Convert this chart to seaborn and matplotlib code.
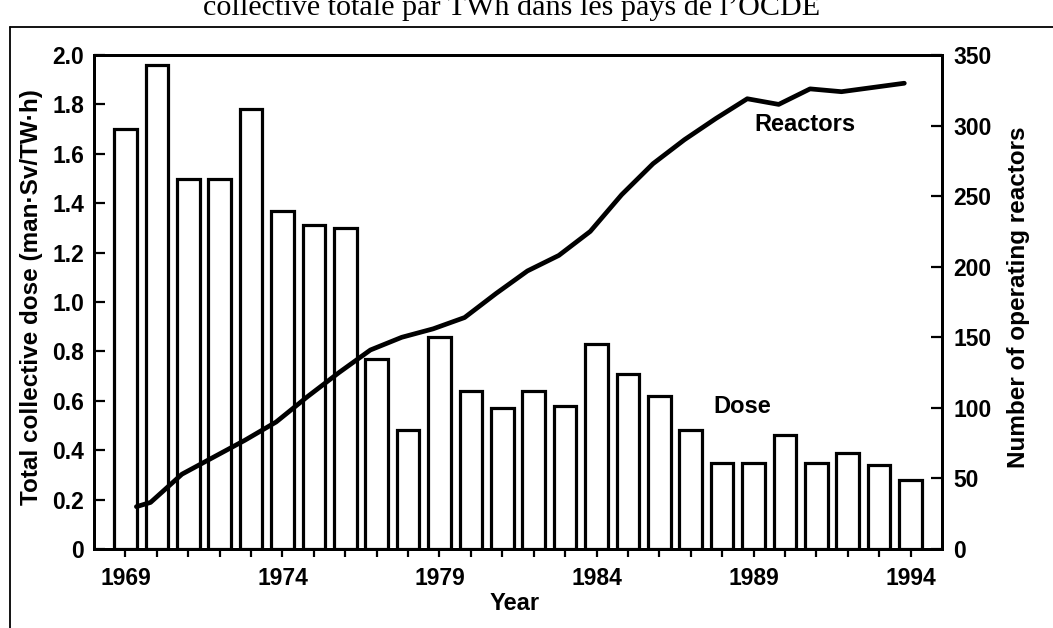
import numpy as np
import matplotlib
matplotlib.use("Agg")
import matplotlib.pyplot as plt
from matplotlib.lines import Line2D
import seaborn as sns

# ---------------- data ----------------
years = list(range(1969, 1995))
dose = [1.70, 1.96, 1.50, 1.50, 1.78, 1.37, 1.31, 1.30, 0.77, 0.48,
        0.86, 0.64, 0.57, 0.64, 0.58, 0.83, 0.71, 0.62, 0.48, 0.35,
        0.35, 0.46, 0.35, 0.39, 0.34, 0.28]

reactor_years = [1969.55] + list(range(1970, 1995))
reactors = [30, 33, 53, 65, 77, 90, 108, 125, 141, 150, 156, 164, 181, 197,
            208, 225, 251, 273, 290, 305, 319, 315, 326, 324, 327, 330]

dose_ticks = [0.0, 0.2, 0.4, 0.6, 0.8, 1.0, 1.2, 1.4, 1.6, 1.8, 2.0]
reactor_ticks = [0, 50, 100, 150, 200, 250, 300, 350]
year_labels = [1969, 1974, 1979, 1984, 1989, 1994]

title_text = "collective totale par TWh dans les pays de l\u2019OCDE"
left_label = "Total collective dose (man\u00b7Sv/TW\u00b7h)"
right_label = "Number of operating reactors"

# ---------------- style ----------------
sns.set_theme(style="ticks")
plt.rcParams['font.family'] = ['Liberation Sans', 'DejaVu Sans']
plt.rcParams['font.weight'] = 'bold'

W, H = 1053, 628
fig = plt.figure(figsize=(W / 100, H / 100), dpi=100)
ax = fig.add_axes([94 / W, 1 - 549 / H, (942 - 94) / W, (549 - 55) / H])

sns.barplot(x=years, y=dose, native_scale=True, ax=ax, color='white',
            saturation=1, edgecolor='black', linewidth=2.3, width=0.72,
            errorbar=None)

ax2 = ax.twinx()
line_offset = -0.2
sns.lineplot(x=np.array(reactor_years) + line_offset, y=reactors, ax=ax2,
             color='black', linewidth=3.4, solid_capstyle='round')

ax.set_xlim(1968, 1995)
ax.set_ylim(0, 2.0)
ax2.set_ylim(0, 350)

ax.set_xticks(years)
ax.set_xticklabels([str(y) if y in year_labels else '' for y in years])
ax.set_yticks(dose_ticks)
ax.set_yticklabels(['0' if v == 0 else f'{v:.1f}' for v in dose_ticks])
ax2.set_yticks(reactor_ticks)
ax2.set_yticklabels([str(v) for v in reactor_ticks])

ax.tick_params(axis='x', direction='out', length=6, width=1.6, pad=7,
               labelsize=16.5, colors='black')
ax.tick_params(axis='y', direction='in', length=8, width=1.6, pad=7,
               labelsize=16.5, colors='black')
ax2.tick_params(axis='y', direction='in', length=8, width=1.6, pad=8,
                labelsize=16.5, colors='black')
for lab in ax.get_xticklabels() + ax.get_yticklabels() + ax2.get_yticklabels():
    lab.set_fontweight('bold')

for a in (ax, ax2):
    for s in a.spines.values():
        s.set_visible(True)
        s.set_linewidth(2.1)
        s.set_color('black')

ax.set_xlabel('Year', fontsize=17, color='black', fontweight='bold')
ax.set_ylabel(left_label, fontsize=17.5, color='black', fontweight='bold')
ax2.set_ylabel(right_label, fontsize=17.5, color='black', fontweight='bold')
ax.xaxis.set_label_coords(0.496, -0.088)
ax.yaxis.set_label_coords(-0.060, 0.51)
ax2.yaxis.set_label_coords(1.077, 0.51)

ax.text(1990.65, 1.717, 'Reactors', fontsize=17, ha='center', va='center',
        color='black', fontweight='bold')
ax.text(1988.65, 0.576, 'Dose', fontsize=17, ha='center', va='center',
        color='black', fontweight='bold')

# page frame and cut-off heading
frame_y = 1 - 27 / H
fig.add_artist(Line2D([10 / W, 1.0], [frame_y, frame_y],
                      transform=fig.transFigure, color='black', linewidth=1.3))
fig.add_artist(Line2D([10 / W, 10 / W], [0.0, frame_y],
                      transform=fig.transFigure, color='black', linewidth=1.3))
fig.text(512 / W, 1 - 15 / H, title_text, ha='center', va='baseline',
         fontsize=21.7, fontweight='normal',
         family=['Liberation Serif', 'DejaVu Serif'], color='black')

fig.savefig('out.png', dpi=100, facecolor='white')
